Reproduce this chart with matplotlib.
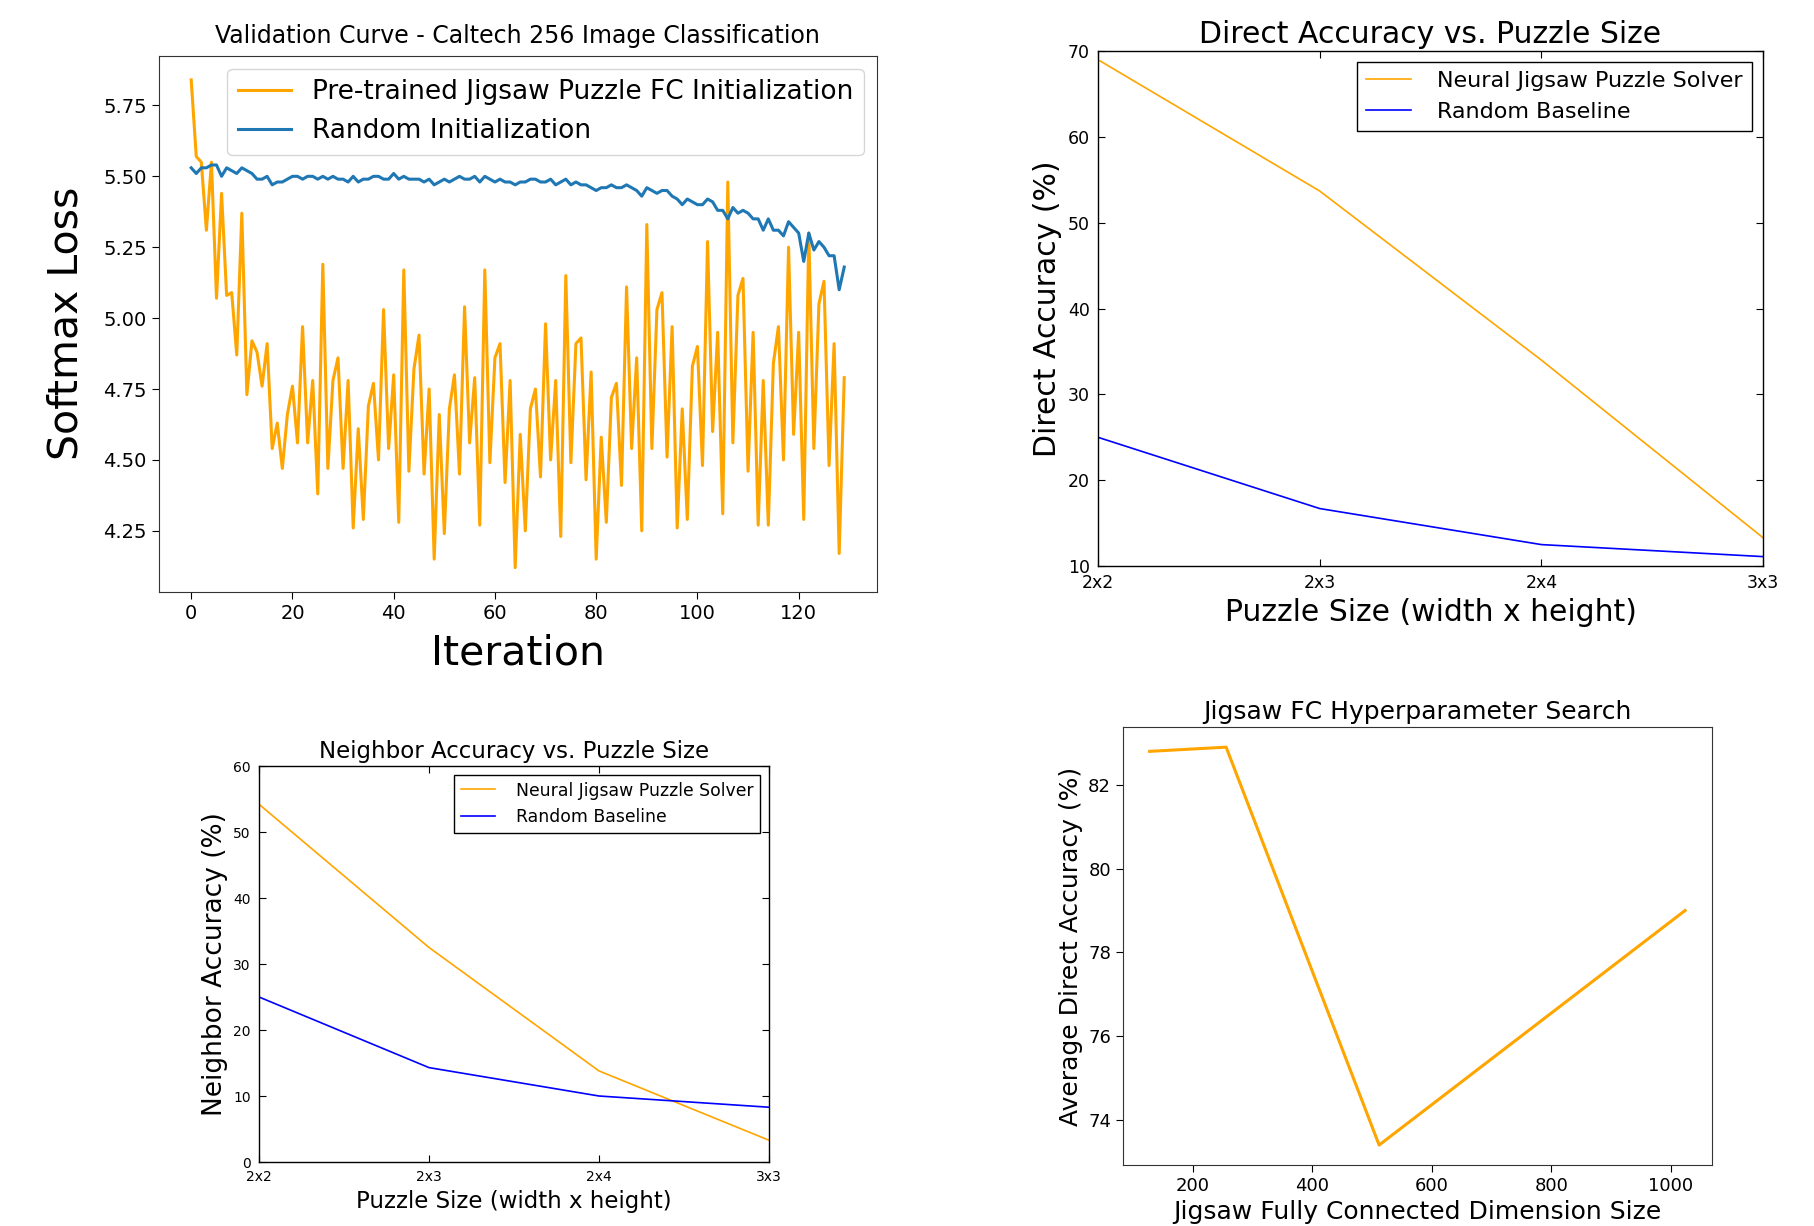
import matplotlib
matplotlib.use("Agg")
import matplotlib.pyplot as plt
import numpy as np

# --- validation curve (Caltech 256) ---
pretrained_loss = [
    5.84, 5.57, 5.55, 5.31, 5.55, 5.07, 5.44, 5.08, 5.09, 4.87,
    5.37, 4.73, 4.92, 4.88, 4.76, 4.91, 4.54, 4.63, 4.47, 4.66,
    4.76, 4.56, 4.97, 4.56, 4.78, 4.38, 5.19, 4.47, 4.78, 4.86,
    4.47, 4.78, 4.26, 4.61, 4.29, 4.69, 4.77, 4.50, 5.03, 4.54,
    4.80, 4.28, 5.17, 4.46, 4.82, 4.94, 4.45, 4.75, 4.15, 4.66,
    4.24, 4.68, 4.80, 4.45, 5.04, 4.56, 4.79, 4.27, 5.17, 4.49,
    4.86, 4.91, 4.42, 4.78, 4.12, 4.59, 4.25, 4.68, 4.75, 4.44,
    4.98, 4.50, 4.78, 4.23, 5.15, 4.49, 4.91, 4.93, 4.43, 4.81,
    4.15, 4.58, 4.28, 4.72, 4.77, 4.41, 5.11, 4.54, 4.86, 4.25,
    5.33, 4.54, 5.03, 5.09, 4.51, 4.97, 4.26, 4.68, 4.29, 4.83,
    4.90, 4.48, 5.27, 4.60, 4.95, 4.31, 5.48, 4.56, 5.08, 5.14,
    4.46, 4.95, 4.27, 4.78, 4.27, 4.84, 4.97, 4.50, 5.25, 4.59,
    4.95, 4.29, 5.30, 4.54, 5.05, 5.13, 4.48, 4.91, 4.17, 4.79,
]
random_loss = [
    5.53, 5.51, 5.53, 5.53, 5.54, 5.54, 5.50, 5.53, 5.52, 5.51,
    5.53, 5.52, 5.51, 5.49, 5.49, 5.50, 5.47, 5.48, 5.48, 5.49,
    5.50, 5.50, 5.49, 5.50, 5.50, 5.49, 5.50, 5.49, 5.50, 5.49,
    5.49, 5.48, 5.50, 5.48, 5.49, 5.49, 5.50, 5.50, 5.49, 5.49,
    5.51, 5.49, 5.50, 5.49, 5.49, 5.49, 5.48, 5.49, 5.47, 5.48,
    5.49, 5.48, 5.49, 5.50, 5.49, 5.49, 5.50, 5.48, 5.50, 5.49,
    5.48, 5.49, 5.48, 5.48, 5.47, 5.48, 5.48, 5.49, 5.49, 5.48,
    5.48, 5.49, 5.47, 5.48, 5.49, 5.47, 5.48, 5.47, 5.47, 5.46,
    5.45, 5.46, 5.46, 5.47, 5.46, 5.46, 5.47, 5.46, 5.45, 5.43,
    5.46, 5.45, 5.44, 5.45, 5.45, 5.43, 5.42, 5.40, 5.42, 5.41,
    5.40, 5.40, 5.42, 5.41, 5.38, 5.38, 5.35, 5.39, 5.37, 5.38,
    5.37, 5.35, 5.35, 5.31, 5.35, 5.31, 5.31, 5.29, 5.34, 5.32,
    5.30, 5.20, 5.30, 5.24, 5.27, 5.25, 5.22, 5.22, 5.10, 5.18,
]
iterations = np.arange(len(pretrained_loss))

# --- puzzle size results ---
puzzle_sizes = ["2x2", "2x3", "2x4", "3x3"]
direct_solver = [69.0, 53.7, 34.0, 13.3]
direct_random = [25.0, 16.7, 12.5, 11.1]
neighbor_solver = [54.2, 32.5, 13.8, 3.3]
neighbor_random = [25.0, 14.3, 10.0, 8.3]

# --- FC hyperparameter search ---
fc_dims = [128, 256, 512, 1024]
fc_accuracy = [82.8, 82.9, 73.4, 79.0]


def classic_axes(ax, tick_size):
    # old matplotlib look: inward ticks on all four sides
    ax.tick_params(direction="in", top=True, right=True, length=5, width=0.8,
                   labelsize=tick_size, pad=6)
    for s in ax.spines.values():
        s.set_color("black")
        s.set_linewidth(1.0)


def main():
    fig = plt.figure(figsize=(18.14, 12.26), dpi=100)

    # top left
    ax1 = fig.add_axes([0.0874, 0.5171, 0.396, 0.4376])
    ax1.plot(iterations, pretrained_loss, color="orange", lw=2.2,
             label="Pre-trained Jigsaw Puzzle FC Initialization")
    ax1.plot(iterations, random_loss, color="#1f77b4", lw=2.2,
             label="Random Initialization")
    ax1.set_yticks([4.25, 4.50, 4.75, 5.00, 5.25, 5.50, 5.75])
    ax1.set_xticks([0, 20, 40, 60, 80, 100, 120])
    ax1.tick_params(labelsize=14, length=5)
    for s in ax1.spines.values():
        s.set_color("#333333")
    ax1.set_title("Validation Curve - Caltech 256 Image Classification",
                  fontsize=17, pad=9)
    ax1.set_xlabel("Iteration", fontsize=29.5, labelpad=8)
    ax1.set_ylabel("Softmax Loss", fontsize=29.5, labelpad=12)
    ax1.legend(loc="upper right", fontsize=19)

    # top right
    x = np.arange(len(puzzle_sizes))
    ax2 = fig.add_axes([0.6053, 0.5383, 0.3666, 0.420])
    ax2.plot(x, direct_solver, color="orange", lw=1.2,
             label="Neural Jigsaw Puzzle Solver")
    ax2.plot(x, direct_random, color="blue", lw=1.2, label="Random Baseline")
    ax2.set_xlim(0, 3)
    ax2.set_ylim(10, 70)
    ax2.set_xticks(x)
    ax2.set_xticklabels(puzzle_sizes)
    classic_axes(ax2, 12.5)
    ax2.set_title("Direct Accuracy vs. Puzzle Size", fontsize=21.5)
    ax2.set_xlabel("Puzzle Size (width x height)", fontsize=21.5)
    ax2.set_ylabel("Direct Accuracy (%)", fontsize=21.5)
    ax2.legend(loc="upper right", fontsize=16, fancybox=False,
               edgecolor="black", framealpha=1, handletextpad=1.2)

    # bottom left
    ax3 = fig.add_axes([0.1428, 0.0522, 0.2811, 0.323])
    ax3.plot(x, neighbor_solver, color="orange", lw=1.2,
             label="Neural Jigsaw Puzzle Solver")
    ax3.plot(x, neighbor_random, color="blue", lw=1.2, label="Random Baseline")
    ax3.set_xlim(0, 3)
    ax3.set_ylim(0, 60)
    ax3.set_xticks(x)
    ax3.set_xticklabels(puzzle_sizes)
    classic_axes(ax3, 10)
    ax3.set_title("Neighbor Accuracy vs. Puzzle Size", fontsize=16.5)
    ax3.set_xlabel("Puzzle Size (width x height)", fontsize=16.5)
    ax3.set_ylabel("Neighbor Accuracy (%)", fontsize=19)
    ax3.legend(loc="upper right", fontsize=12.4, fancybox=False,
               edgecolor="black", framealpha=1, handletextpad=1.2)

    # bottom right
    ax4 = fig.add_axes([0.619, 0.0498, 0.3247, 0.357])
    ax4.plot(fc_dims, fc_accuracy, color="orange", lw=2.2)
    ax4.set_xticks([200, 400, 600, 800, 1000])
    ax4.set_yticks([74, 76, 78, 80, 82])
    ax4.tick_params(labelsize=13, length=5)
    for s in ax4.spines.values():
        s.set_color("#333333")
    ax4.set_title("Jigsaw FC Hyperparameter Search", fontsize=18)
    ax4.set_xlabel("Jigsaw Fully Connected Dimension Size", fontsize=18)
    ax4.set_ylabel("Average Direct Accuracy (%)", fontsize=18)

    fig.savefig("out.png", dpi=100)


if __name__ == "__main__":
    main()
